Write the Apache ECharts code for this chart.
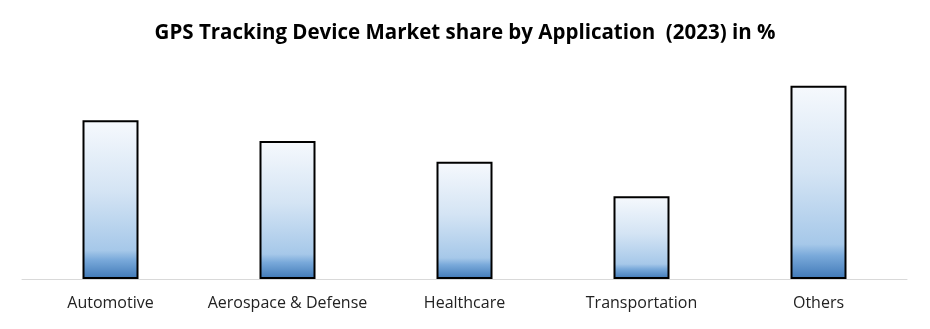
<!DOCTYPE html>
<html>
<head>
<meta charset="utf-8">
<script src="https://cdn.jsdelivr.net/npm/echarts@6/dist/echarts.min.js"></script>
<style>
  html, body { margin: 0; padding: 0; background: #fff; }
  #chart { width: 930px; height: 329px; }
</style>
</head>
<body>
<div id="chart"></div>
<script>
// Market share by application, 2023 (%)
const categories = ['Automotive', 'Aerospace & Defense', 'Healthcare', 'Transportation', 'Others'];
const shareValues = [23, 20, 17, 12, 28];

const chart = echarts.init(document.getElementById('chart'));

const barFill = new echarts.graphic.LinearGradient(0, 0, 0, 1, [
  { offset: 0, color: '#f6f9fd' },
  { offset: 0.45, color: '#d4e4f4' },
  { offset: 0.82, color: '#a6c8e9' },
  { offset: 0.88, color: '#79a9da' },
  { offset: 1, color: '#3f78b6' }
]);

chart.setOption({
  animation: false,
  title: {
    text: 'GPS Tracking Device Market share by Application  (2023) in %',
    left: 'center',
    top: 18,
    textStyle: {
      fontFamily: 'Open Sans',
      fontWeight: 'bold',
      fontSize: 20.5,
      color: '#000'
    }
  },
  grid: { left: 22, right: 23, top: 72, bottom: 50 },
  xAxis: {
    type: 'category',
    data: categories,
    axisLine: { lineStyle: { color: '#d9d9d9', width: 1 } },
    axisTick: { show: false },
    axisLabel: {
      interval: 0,
      fontFamily: 'Open Sans',
      fontSize: 16,
      color: '#222',
      margin: 16
    }
  },
  yAxis: {
    type: 'value',
    min: 0,
    max: 30,
    show: false,
    splitLine: { show: false }
  },
  series: [{
    type: 'bar',
    data: shareValues,
    barWidth: 56,
    itemStyle: {
      color: barFill,
      borderColor: '#000',
      borderWidth: 2
    }
  }]
});
</script>
</body>
</html>
